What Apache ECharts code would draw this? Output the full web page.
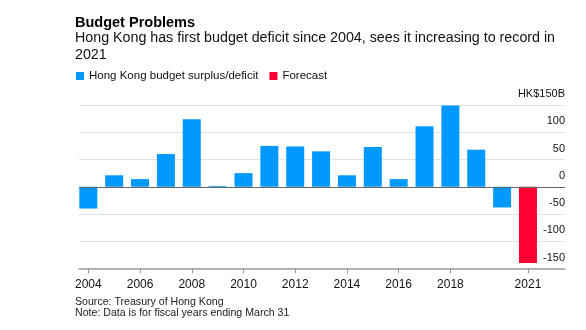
<!DOCTYPE html>
<html>
<head>
<meta charset="utf-8">
<script src="https://cdn.jsdelivr.net/npm/echarts@6/dist/echarts.min.js"></script>
<style>
  html, body { margin: 0; padding: 0; background: #fff; }
  #chart { width: 586px; height: 330px; }
</style>
</head>
<body>
<div id="chart"></div>
<script>
// ---- data ----
const years = ['2004','2005','2006','2007','2008','2009','2010','2011','2012','2013','2014','2015','2016','2017','2018','2019','2020','2021'];
const surplus = [-40, 21, 14, 60, 124, 1.5, 25, 75, 74, 65, 21, 73, 14, 111, 149, 68, -38, null];
const forecast = [null, null, null, null, null, null, null, null, null, null, null, null, null, null, null, null, null, -140];
const xTickLabels = ['2004','2006','2008','2010','2012','2014','2016','2018','2021'];
const yTicks = [-150, -100, -50, 0, 50, 100, 150];
const yTickLabels = ['-150', '-100', '-50', '0', '50', '100', 'HK$150B'];
const seriesNames = ['Hong Kong budget surplus/deficit', 'Forecast'];
const titleText = 'Budget Problems';
const subtitleText = 'Hong Kong has first budget deficit since 2004, sees it increasing to record in\n2021';
const footText = 'Source: Treasury of Hong Kong\nNote: Data is for fiscal years ending March 31';

const FONT = "'Liberation Sans', Arial, Helvetica, sans-serif";
const BLUE = '#0099ff';
const RED = '#ff0033';

const chart = echarts.init(document.getElementById('chart'), null, { renderer: 'canvas' });

const option = {
  animation: false,
  textStyle: { fontFamily: FONT },
  title: [
    {
      text: titleText, left: 75, top: 14, padding: 0,
      textStyle: { fontFamily: FONT, fontSize: 14.5, fontWeight: 'bold', color: '#000', lineHeight: 18 }
    },
    {
      text: subtitleText, left: 75, top: 30, padding: 0,
      textStyle: { fontFamily: FONT, fontSize: 14.25, fontWeight: 'normal', color: '#111', lineHeight: 17 }
    },
    {
      text: footText, left: 75, top: 296.5, padding: 0,
      textStyle: { fontFamily: FONT, fontSize: 10.6, fontWeight: 'normal', color: '#222', lineHeight: 11 }
    }
  ],
  legend: {
    data: seriesNames,
    left: 76, top: 70, padding: 0,
    icon: 'rect', itemWidth: 8, itemHeight: 8, itemGap: 11,
    selectedMode: false,
    textStyle: { fontFamily: FONT, fontSize: 11.5, color: '#111', lineHeight: 12 }
  },
  grid: [
    { left: 75.4, width: 465.5, top: 105, height: 163.5, containLabel: false },
    { left: 79, right: 21, top: 105, height: 163.5, containLabel: false }
  ],
  xAxis: [
    {
      type: 'category', gridIndex: 0, data: years, boundaryGap: true,
      axisLine: { show: false, onZero: false },
      axisTick: {
        show: true, alignWithLabel: true, length: 5,
        interval: (i, v) => xTickLabels.indexOf(v) >= 0,
        lineStyle: { color: '#999', width: 1 }
      },
      axisLabel: {
        show: true, margin: 10,
        interval: (i, v) => xTickLabels.indexOf(v) >= 0,
        fontFamily: FONT, fontSize: 12, color: '#111', lineHeight: 12
      },
      splitLine: { show: false }
    },
    {
      type: 'value', gridIndex: 1, min: 0, max: 1,
      axisLine: { show: true, onZero: false, lineStyle: { color: '#a0a0a0', width: 1.5 } },
      axisTick: { show: false },
      axisLabel: { show: false },
      splitLine: { show: false }
    }
  ],
  yAxis: [
    {
      type: 'value', gridIndex: 0, min: -150, max: 150, interval: 50,
      show: false, splitLine: { show: false }
    },
    {
      type: 'value', gridIndex: 1, position: 'right', min: -150, max: 150, interval: 50,
      axisLine: { show: false },
      axisTick: { show: false },
      axisLabel: {
        inside: true, margin: 0, verticalAlign: 'bottom', align: 'right',
        padding: [0, 0, 5, 0], lineHeight: 12,
        fontFamily: FONT, fontSize: 11, color: '#111',
        formatter: (v) => {
          const k = yTicks.indexOf(v);
          return k >= 0 ? yTickLabels[k] : '';
        }
      },
      splitLine: { show: true, lineStyle: { color: '#e2e2e2', width: 1 } }
    }
  ],
  series: [
    {
      name: seriesNames[0], type: 'bar', xAxisIndex: 0, yAxisIndex: 0,
      data: surplus, barWidth: 18, barGap: '-100%',
      itemStyle: { color: BLUE }, z: 3
    },
    {
      name: seriesNames[1], type: 'bar', xAxisIndex: 0, yAxisIndex: 0,
      data: forecast, barWidth: 18, barGap: '-100%',
      itemStyle: { color: RED }, z: 3
    },
    {
      name: 'zero', type: 'line', xAxisIndex: 1, yAxisIndex: 1, data: [],
      silent: true, z: 5,
      markLine: {
        silent: true, symbol: 'none', animation: false,
        label: { show: false },
        lineStyle: { color: '#666', width: 1, type: 'solid' },
        data: [{ yAxis: 0 }]
      }
    }
  ]
};

chart.setOption(option);
</script>
</body>
</html>
